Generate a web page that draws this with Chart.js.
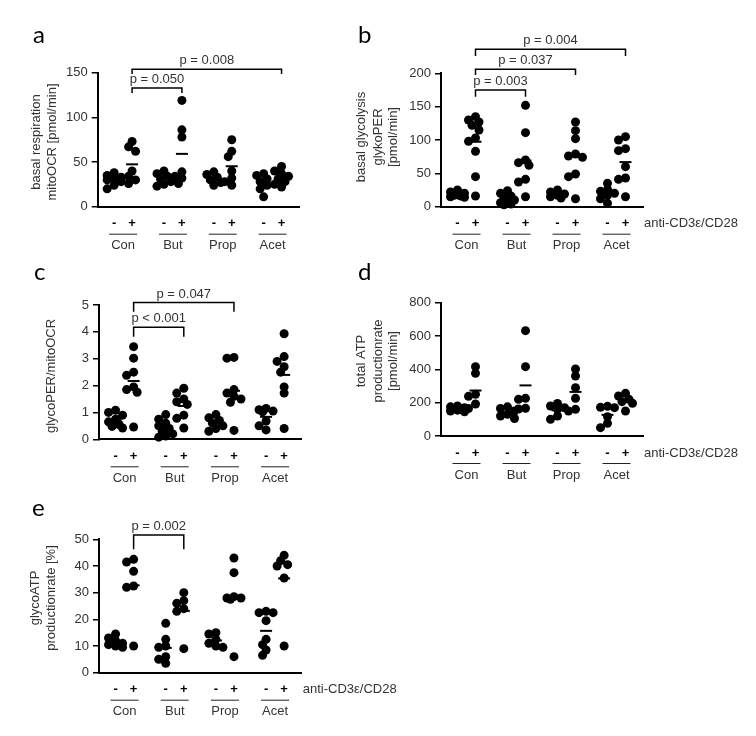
<!DOCTYPE html>
<html>
<head>
<meta charset="utf-8">
<script src="https://cdn.jsdelivr.net/npm/chart.js@4.4.0/dist/chart.umd.min.js"></script>
<style>
    body { margin: 0; background: #fff; width: 756px; height: 736px; position: relative; overflow: hidden; }
    canvas { position: absolute; }
</style>
</head>
<body>
<script>
// categories
const groups = ['Con', 'But', 'Prop', 'Acet'];
const signs = ['-', '+', '-', '+', '-', '+', '-', '+'];
const slotX = [0, 18, 50, 68, 100, 118, 150, 168];
const stimLabel = 'anti-CD3\u03b5/CD28';

// a - basal respiration (mitoOCR)
const mitoOCR = [
    [38, 35, 33, 31, 30, 28, 24, 20],
    [73, 67, 62, 40, 34, 30, 26],
    [40, 37, 34, 31, 28, 25, 23],
    [119, 86, 78, 39, 34, 32, 26],
    [39, 36, 33, 30, 27, 24],
    [75, 62, 56, 40, 32, 28, 24],
    [37, 35, 31, 28, 24, 20, 11],
    [45, 40, 37, 34, 31, 28, 25, 22]
];
const ticksA = [0, 50, 100, 150];

// b - basal glycolysis (glykoPER)
const glykoPER = [
    [25, 22, 20, 18, 17, 16, 15, 14],
    [135, 130, 127, 122, 115, 103, 98, 83, 45, 16],
    [24, 20, 16, 13, 10, 8, 6, 4, 3],
    [152, 111, 70, 66, 62, 41, 37, 15],
    [25, 22, 19, 17, 15, 13],
    [127, 114, 102, 79, 76, 74, 49, 45, 12],
    [35, 26, 23, 20, 17, 12, 5],
    [105, 100, 87, 84, 60, 43, 41, 15]
];
const ticksB = [0, 50, 100, 150, 200];

// c - glycoPER/mitoOCR
const perOcr = [
    [1.08, 1.0, 0.9, 0.75, 0.65, 0.55, 0.48, 0.42],
    [3.45, 3.02, 2.5, 2.38, 1.95, 1.85, 1.75, 0.46],
    [0.92, 0.75, 0.6, 0.5, 0.4, 0.3, 0.2, 0.12, 0.08],
    [1.9, 1.72, 1.5, 1.4, 1.3, 0.9, 0.78, 0.42],
    [0.92, 0.8, 0.7, 0.6, 0.5, 0.4, 0.3],
    [3.05, 3.02, 1.85, 1.72, 1.6, 1.5, 1.38, 0.33],
    [1.15, 1.1, 1.05, 1.02, 0.68, 0.5, 0.35],
    [3.93, 3.08, 2.9, 2.7, 2.5, 1.95, 1.72, 0.4]
];
const ticksC = [0, 1, 2, 3, 4, 5];

// d - total ATP productionrate
const totalATP = [
    [180, 175, 170, 165, 160, 155, 150, 145],
    [416, 376, 250, 238, 192, 165],
    [175, 165, 150, 130, 120, 105],
    [632, 416, 226, 220, 166, 162],
    [195, 180, 170, 160, 120, 100],
    [402, 360, 290, 226, 160, 150],
    [178, 172, 170, 116, 76, 50],
    [256, 240, 220, 206, 196, 150]
];
const ticksD = [0, 200, 400, 600, 800];

// e - glycoATP productionrate [%]
const glycoATP = [
    [14.5, 13, 12, 11, 10.5, 10, 9.5],
    [42.5, 41.5, 38, 32.5, 32, 10],
    [18.5, 12.5, 10, 9.5, 6, 5, 3.5],
    [30, 27, 26, 24, 23, 9],
    [15, 14.5, 12.5, 11, 10, 9.5],
    [43, 37.5, 28.5, 28, 28, 27.5, 6],
    [23, 22.5, 22.5, 19.5, 12.5, 10.5, 8.5, 6.5],
    [44, 42, 40.5, 40, 35.5, 10]
];
const ticksE = [0, 10, 20, 30, 40, 50];

// significance brackets: slot indices, label, bracket level and leg end (data units)
const bracketsA = [
    { from: 1, to: 3, text: 'p = 0.050', y: 133, leg: 127.3 },
    { from: 1, to: 7, text: 'p = 0.008', y: 154, leg: 148.5 }
];
const bracketsB = [
    { from: 1, to: 3, text: 'p = 0.003', y: 175, leg: 165 },
    { from: 1, to: 5, text: 'p = 0.037', y: 206, leg: 197.5 },
    { from: 1, to: 7, text: 'p = 0.004', y: 236, leg: 226 }
];
const bracketsC = [
    { from: 1, to: 3, text: 'p < 0.001', y: 4.17, leg: 3.82 },
    { from: 1, to: 5, text: 'p = 0.047', y: 5.09, leg: 4.75 }
];
const bracketsE = [
    { from: 1, to: 3, text: 'p = 0.002', y: 51.6, leg: 46.25 }
];

const panels = [
    { id: 'a', data: mitoOCR, ticks: ticksA, canvas: [0, 0, 340, 256], area: [97.7, 72.7, 299, 206.7],
      letter: [33, 43], title: ['basal respiration', 'mitoOCR [pmol/min]'], titleX: [36.7, 52.3], titleY: 142,
      brackets: bracketsA, stim: false },
    { id: 'b', data: glykoPER, ticks: ticksB, canvas: [340, 0, 416, 256], area: [441, 73.3, 643, 206.7],
      letter: [358, 43], title: ['basal glycolysis', 'glykoPER', '[pmol/min]'], titleX: [361.7, 378.3, 393.3], titleY: 137,
      brackets: bracketsB, stim: true },
    { id: 'c', data: perOcr, ticks: ticksC, canvas: [0, 256, 340, 234], area: [99, 305, 301.7, 439.3],
      letter: [34, 280], title: ['glycoPER/mitoOCR'], titleX: [51.7], titleY: 376,
      brackets: bracketsC, stim: false },
    { id: 'd', data: totalATP, ticks: ticksD, canvas: [340, 256, 416, 234], area: [441, 302.7, 643, 436],
      letter: [358, 280], title: ['total ATP', 'productionrate', '[pmol/min]'], titleX: [361.7, 378.3, 393.3], titleY: 361,
      brackets: [], stim: true },
    { id: 'e', data: glycoATP, ticks: ticksE, canvas: [0, 490, 420, 246], area: [99, 539.3, 301.7, 672.7],
      letter: [32, 515.7], title: ['glycoATP', 'productionrate [%]'], titleX: [35, 51.7], titleY: 598,
      brackets: bracketsE, stim: true }
];

Chart.defaults.font.family = '"Liberation Sans", Arial, sans-serif';

// spread dots sideways a little (x units are about one pixel), overlap allowed
function swarm(vals, cx, pxPerUnit) {
    const sorted = [...vals].sort((a, b) => b - a);
    const steps = [0, -3.5, 3.5, -7, 7];
    const placed = [];
    sorted.forEach(v => {
        const py = v * pxPerUnit;
        const clearance = s => placed.reduce((m, q) => Math.min(m, Math.hypot(q.dx - s, q.py - py)), Infinity);
        let dx = null;
        for (const s of steps) {
            if (clearance(s) >= 6) { dx = s; break; }
        }
        if (dx === null) {
            dx = steps.reduce((best, s) => clearance(s) > clearance(best) ? s : best, 0);
        }
        placed.push({ dx: dx, py: py });
    });
    return placed.map((q, i) => ({ x: cx + q.dx, y: sorted[i] }));
}

function decor(p) {
    return {
        id: 'decor' + p.id,
        afterDraw(chart) {
            const ctx = chart.ctx;
            const xs = chart.scales.x, ys = chart.scales.y, area = chart.chartArea;
            const cx = p.canvas[0], cy = p.canvas[1];
            ctx.save();

            // panel letter
            ctx.fillStyle = '#000';
            ctx.font = '24px Lato, "Open Sans", sans-serif';
            ctx.textAlign = 'left';
            ctx.textBaseline = 'alphabetic';
            ctx.fillText(p.id, p.letter[0] - cx, p.letter[1] - cy);

            // y axis title
            ctx.font = '13px "Liberation Sans", Arial, sans-serif';
            ctx.fillStyle = '#333';
            ctx.textAlign = 'center';
            ctx.textBaseline = 'middle';
            p.title.forEach((t, i) => {
                ctx.save();
                ctx.translate(p.titleX[i] - cx, p.titleY - cy);
                ctx.rotate(-Math.PI / 2);
                ctx.fillText(t, 0, 0);
                ctx.restore();
            });

            // - / + row
            const yS = area.bottom + 17;
            ctx.font = 'bold 13px "Liberation Sans", Arial, sans-serif';
            ctx.fillStyle = '#000';
            signs.forEach((s, i) => ctx.fillText(s, xs.getPixelForValue(slotX[i]), yS));

            // group underline and names
            ctx.strokeStyle = '#222';
            ctx.lineWidth = 1;
            ctx.font = '13px "Liberation Sans", Arial, sans-serif';
            ctx.fillStyle = '#333';
            groups.forEach((g, k) => {
                const x0 = xs.getPixelForValue(slotX[2 * k]) - 5;
                const x1 = xs.getPixelForValue(slotX[2 * k + 1]) + 5;
                ctx.beginPath();
                ctx.moveTo(x0, area.bottom + 27.5);
                ctx.lineTo(x1, area.bottom + 27.5);
                ctx.stroke();
                ctx.fillText(g, (x0 + x1) / 2, area.bottom + 39);
            });

            if (p.stim) {
                ctx.textAlign = 'left';
                ctx.fillText(stimLabel, area.right + 1, yS);
            }

            // brackets
            ctx.strokeStyle = '#000';
            ctx.lineWidth = 1.5;
            ctx.textAlign = 'center';
            p.brackets.forEach(b => {
                const x0 = xs.getPixelForValue(slotX[b.from]);
                const x1 = xs.getPixelForValue(slotX[b.to]);
                const yT = ys.getPixelForValue(b.y);
                const yL = ys.getPixelForValue(b.leg);
                ctx.beginPath();
                ctx.moveTo(x0, yL);
                ctx.lineTo(x0, yT);
                ctx.lineTo(x1, yT);
                ctx.lineTo(x1, yL);
                ctx.stroke();
                ctx.fillText(b.text, (x0 + x1) / 2, yT - 8.5);
            });
            ctx.restore();
        }
    };
}

function makePanel(p) {
    const [cx, cy, cw, ch] = p.canvas;
    const [al, at, ar, ab] = p.area;
    const cv = document.createElement('canvas');
    cv.width = cw;
    cv.height = ch;
    cv.style.left = cx + 'px';
    cv.style.top = cy + 'px';
    cv.style.width = cw + 'px';
    cv.style.height = ch + 'px';
    document.body.appendChild(cv);

    const yMax = p.ticks[p.ticks.length - 1];
    const pxPerUnit = (ab - at) / yMax;
    const dots = [];
    p.data.forEach((vals, i) => dots.push(...swarm(vals, slotX[i], pxPerUnit)));
    const means = p.data.map((vals, i) => ({
        x: slotX[i],
        y: vals.reduce((s, v) => s + v, 0) / vals.length
    }));

    new Chart(cv, {
        type: 'scatter',
        data: {
            datasets: [
                {
                    data: means,
                    pointStyle: 'line',
                    pointRadius: 6,
                    pointHoverRadius: 6,
                    pointBorderColor: '#000',
                    pointBorderWidth: 2,
                    borderColor: '#000',
                    borderWidth: 2,
                    clip: false
                },
                {
                    data: dots,
                    pointRadius: 4.5,
                    pointHoverRadius: 4.5,
                    pointBackgroundColor: '#000',
                    pointBorderWidth: 0,
                    backgroundColor: '#000',
                    clip: false
                }
            ]
        },
        options: {
            responsive: false,
            animation: false,
            events: [],
            devicePixelRatio: 1,
            layout: { padding: { left: 0, top: at - cy, right: cx + cw - ar, bottom: 0 } },
            plugins: { legend: { display: false }, tooltip: { enabled: false } },
            scales: {
                x: {
                    type: 'linear',
                    min: -16.5,
                    max: 185.5,
                    ticks: { display: false },
                    grid: { display: false },
                    border: { display: true, color: '#000', width: 2 },
                    afterFit: s => { s.height = cy + ch - ab; }
                },
                y: {
                    min: 0,
                    max: yMax,
                    afterBuildTicks: s => { s.ticks = p.ticks.map(v => ({ value: v })); },
                    ticks: { color: '#333', font: { size: 13 }, padding: 4 },
                    grid: { display: true, drawOnChartArea: false, drawTicks: true, tickLength: 6, color: '#000', lineWidth: 1.5 },
                    border: { display: true, color: '#000', width: 2 },
                    afterFit: s => { s.width = al - cx; }
                }
            }
        },
        plugins: [decor(p)]
    });
}

panels.forEach(makePanel);
</script>
</body>
</html>
